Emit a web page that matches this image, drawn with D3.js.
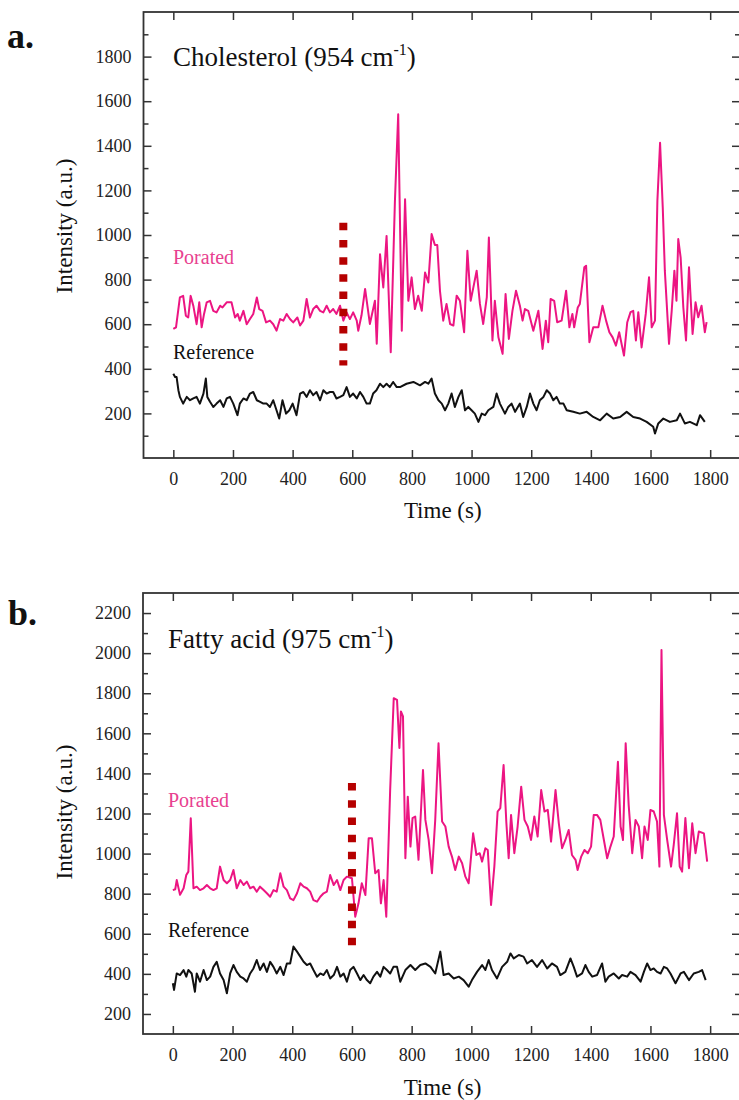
<!DOCTYPE html>
<html>
<head>
<meta charset="utf-8">
<script src="https://cdn.jsdelivr.net/npm/d3@7"></script>
<style>
  body { margin: 0; background: #fff; }
  svg text { font-family: "Liberation Serif", "Times New Roman", serif; }
</style>
</head>
<body>
<svg id="chart" width="739" height="1100"></svg>
<script>
// Time (s), intensity (a.u.)
const cholPorated = [[0,579],[9,586],[22,720],[33,727],[42,638],[50,630],[58,727],[67,683],[78,600],[87,698],[95,586],[103,646],[112,698],[123,705],[134,660],[145,653],[157,683],[165,675],[179,698],[195,698],[207,630],[216,646],[223,616],[235,660],[246,600],[257,623],[268,646],[280,720],[288,668],[299,660],[311,608],[324,616],[335,600],[346,571],[358,623],[369,616],[380,646],[391,623],[402,608],[416,630],[425,594],[436,616],[447,713],[458,630],[469,668],[480,683],[492,660],[503,653],[514,683],[525,653],[536,668],[547,646],[559,683],[570,616],[581,653],[592,623],[603,653],[615,616],[620,571],[631,640],[643,758],[659,601],[676,705],[682,512],[693,914],[704,765],[715,996],[729,474],[743,1153],[754,1541],[766,571],[777,1160],[788,705],[799,810],[810,668],[821,728],[833,660],[844,832],[855,787],[866,1004],[877,955],[885,955],[894,750],[905,616],[916,691],[928,601],[939,594],[950,728],[961,705],[975,564],[986,929],[997,705],[1006,765],[1017,840],[1028,691],[1039,601],[1051,720],[1058,989],[1070,527],[1078,705],[1090,541],[1104,467],[1114,735],[1125,534],[1137,660],[1149,750],[1162,683],[1171,616],[1179,668],[1190,660],[1207,571],[1224,660],[1238,489],[1249,616],[1257,519],[1265,713],[1277,705],[1287,609],[1302,616],[1317,750],[1328,586],[1338,646],[1344,586],[1356,675],[1363,691],[1378,855],[1384,862],[1395,519],[1408,586],[1425,586],[1439,683],[1451,616],[1462,564],[1473,541],[1484,504],[1495,564],[1511,459],[1522,609],[1533,654],[1542,660],[1551,527],[1559,654],[1570,496],[1584,646],[1595,810],[1604,586],[1615,616],[1623,1153],[1632,1414],[1641,1124],[1648,840],[1662,512],[1671,660],[1680,840],[1687,705],[1693,982],[1701,899],[1710,675],[1719,527],[1729,855],[1741,556],[1751,698],[1760,631],[1771,683],[1782,564],[1788,609]];

const cholReference = [[0,378],[6,363],[11,363],[17,304],[22,274],[33,244],[45,274],[56,259],[67,267],[78,274],[89,244],[101,289],[109,356],[114,274],[123,252],[134,229],[145,244],[157,259],[168,229],[179,267],[190,274],[201,244],[215,192],[223,244],[235,267],[246,259],[257,289],[268,296],[280,259],[291,252],[302,244],[313,244],[324,229],[335,259],[346,214],[355,177],[366,259],[378,199],[389,214],[400,244],[413,192],[425,289],[436,296],[447,274],[458,304],[469,282],[480,296],[492,259],[503,304],[514,289],[525,296],[536,296],[547,267],[559,274],[570,282],[581,318],[592,274],[603,289],[615,267],[626,296],[637,274],[648,244],[659,244],[670,289],[681,304],[693,333],[704,318],[715,333],[726,318],[737,341],[749,318],[760,318],[782,333],[805,341],[827,326],[844,341],[855,333],[866,356],[877,289],[889,259],[900,244],[911,214],[922,244],[933,289],[944,229],[956,274],[967,304],[978,214],[989,229],[1000,214],[1011,199],[1023,162],[1034,199],[1045,192],[1056,214],[1073,229],[1084,289],[1095,244],[1112,199],[1123,229],[1134,244],[1146,207],[1162,244],[1173,184],[1185,229],[1196,289],[1207,244],[1218,214],[1229,259],[1241,274],[1252,304],[1263,289],[1274,259],[1285,274],[1296,244],[1308,244],[1319,214],[1341,207],[1363,199],[1386,207],[1408,184],[1431,169],[1453,199],[1475,177],[1498,184],[1520,207],[1542,184],[1565,177],[1587,162],[1609,140],[1615,110],[1626,155],[1643,177],[1665,162],[1688,169],[1699,199],[1715,155],[1732,162],[1755,147],[1766,192],[1782,162]];

const fattyPorated = [[0,818],[8,822],[13,868],[24,794],[36,827],[45,893],[52,910],[60,1176],[69,827],[80,835],[91,818],[103,827],[114,843],[125,827],[136,818],[147,827],[158,935],[170,868],[181,852],[192,868],[203,918],[214,827],[226,868],[237,843],[248,860],[259,827],[270,835],[281,810],[292,835],[304,818],[315,802],[326,785],[337,818],[348,810],[360,902],[371,835],[382,818],[393,777],[404,768],[416,802],[427,852],[438,835],[449,827],[460,810],[471,768],[483,760],[494,785],[505,802],[516,810],[527,893],[539,843],[550,868],[561,818],[572,868],[583,885],[600,877],[611,685],[622,752],[633,852],[645,793],[656,1076],[667,1076],[678,902],[689,918],[697,752],[706,868],[715,685],[728,1317],[740,1775],[751,1767],[759,1527],[764,1709],[771,1684],[779,977],[787,1284],[796,1035],[803,1177],[812,1185],[823,969],[838,1417],[846,1168],[857,1068],[868,902],[879,1168],[890,1550],[902,1160],[913,1135],[924,1035],[935,985],[946,918],[958,985],[969,952],[980,885],[991,852],[1006,1101],[1017,993],[1028,1002],[1036,960],[1047,1027],[1055,1018],[1066,744],[1077,935],[1088,1210],[1097,1227],[1108,1442],[1117,1160],[1125,977],[1133,1193],[1144,1002],[1155,1135],[1167,1334],[1178,1168],[1189,1135],[1200,1068],[1211,1185],[1222,1085],[1234,1317],[1245,1210],[1256,1218],[1267,1060],[1282,1317],[1293,1151],[1304,1027],[1315,1068],[1326,1118],[1337,993],[1349,969],[1356,918],[1368,985],[1379,1018],[1390,1002],[1401,1035],[1410,1193],[1421,1193],[1432,1168],[1444,1068],[1455,977],[1466,1035],[1477,1085],[1491,1458],[1500,1135],[1508,1068],[1517,1550],[1527,1243],[1539,1002],[1550,1168],[1561,1135],[1572,977],[1580,1135],[1591,1068],[1600,1218],[1611,1210],[1622,1160],[1630,935],[1637,2016],[1645,1193],[1656,1068],[1669,935],[1678,1043],[1689,1201],[1698,935],[1706,910],[1717,1177],[1729,927],[1740,1151],[1751,1002],[1762,1110],[1779,1101],[1790,960]];

const fattyReference = [[0,353],[4,320],[13,402],[24,394],[36,419],[45,386],[52,419],[63,402],[74,311],[80,402],[91,361],[103,419],[114,369],[125,386],[136,435],[147,460],[158,402],[170,369],[181,303],[192,402],[203,444],[214,410],[226,386],[237,377],[248,361],[259,402],[270,427],[281,469],[292,419],[304,452],[315,410],[326,460],[337,435],[348,402],[360,435],[371,394],[382,452],[393,452],[404,536],[416,511],[427,486],[438,460],[449,444],[460,452],[471,419],[483,386],[494,402],[505,394],[516,419],[527,377],[539,394],[550,435],[561,386],[572,402],[583,361],[594,419],[605,435],[617,402],[628,369],[639,394],[650,369],[661,353],[672,386],[684,410],[695,386],[706,435],[717,419],[728,402],[739,435],[751,435],[762,361],[779,419],[796,444],[812,419],[829,444],[846,452],[863,435],[879,402],[896,511],[907,394],[924,402],[941,377],[958,386],[974,369],[991,336],[1002,369],[1019,410],[1036,444],[1047,419],[1058,469],[1069,419],[1086,377],[1103,435],[1120,460],[1131,502],[1142,477],[1159,494],[1175,486],[1187,452],[1203,469],[1220,435],[1237,469],[1254,427],[1270,452],[1287,435],[1298,394],[1315,410],[1332,477],[1343,435],[1354,386],[1371,402],[1382,444],[1393,410],[1405,386],[1421,394],[1438,452],[1449,361],[1460,386],[1477,402],[1494,377],[1505,394],[1522,386],[1533,410],[1550,394],[1567,361],[1578,410],[1589,452],[1600,419],[1611,427],[1622,410],[1634,402],[1645,435],[1656,427],[1667,402],[1684,353],[1701,402],[1712,410],[1729,369],[1745,402],[1762,410],[1773,419],[1785,369]];

const xTicks = [0, 200, 400, 600, 800, 1000, 1200, 1400, 1600, 1800];
const cholYTicks = [200, 400, 600, 800, 1000, 1200, 1400, 1600, 1800];
const cholYMinor = [100, 300, 500, 700, 900, 1100, 1300, 1500, 1700, 1900];
const fattyYTicks = [200, 400, 600, 800, 1000, 1200, 1400, 1600, 1800, 2000, 2200];
const fattyYMinor = [300, 500, 700, 900, 1100, 1300, 1500, 1700, 1900, 2100];

// [time, from, to] of the poration marker
const cholMarker = [570, 1055, 415];
const fattyMarker = [600, 1352, 500];

const PINK = "#ec1582";
const SERIF = '"Liberation Serif", "Times New Roman", serif';
const svg = d3.select("#chart");

function drawPanel(opt) {
  const { top, bottom, left, right, yDomain, yTicks, yMinor, porated, reference, marker } = opt;

  const x = d3.scaleLinear().domain([-100, 1900]).range([left, right]);
  const y = d3.scaleLinear().domain(yDomain).range([bottom, top]);
  const g = svg.append("g");
  const fmt = d3.format("d");

  // axes, ticks inward
  const styleAxis = (sel) => {
    sel.attr("font-family", SERIF).attr("font-size", 18);
    sel.select(".domain").remove();
    sel.selectAll("line").attr("stroke", "#333").attr("stroke-width", 1.5);
    sel.selectAll("text").attr("fill", "#222");
  };

  g.append("g").attr("transform", `translate(0,${bottom})`)
    .call(d3.axisBottom(x).tickValues(xTicks).tickFormat(fmt).tickSize(-8).tickPadding(14))
    .call(styleAxis);
  g.append("g").attr("transform", `translate(0,${top})`)
    .call(d3.axisTop(x).tickValues(xTicks).tickSize(-8).tickFormat(""))
    .call(styleAxis);
  g.append("g").attr("transform", `translate(${left},0)`)
    .call(d3.axisLeft(y).tickValues(yTicks).tickFormat(fmt).tickSize(-8).tickPadding(12))
    .call(styleAxis);
  g.append("g").attr("transform", `translate(${left},0)`)
    .call(d3.axisLeft(y).tickValues(yMinor).tickSize(-5).tickFormat(""))
    .call(styleAxis);
  g.append("g").attr("transform", `translate(${right},0)`)
    .call(d3.axisRight(y).tickValues(yTicks).tickSize(-8).tickFormat(""))
    .call(styleAxis);
  g.append("g").attr("transform", `translate(${right},0)`)
    .call(d3.axisRight(y).tickValues(yMinor).tickSize(-5).tickFormat(""))
    .call(styleAxis);

  g.append("rect")
    .attr("x", left).attr("y", top)
    .attr("width", right - left).attr("height", bottom - top)
    .attr("fill", "none").attr("stroke", "#333").attr("stroke-width", 1.8);

  const line = d3.line().x((d) => x(d[0])).y((d) => y(d[1]));

  g.append("path").datum(reference)
    .attr("fill", "none").attr("stroke", "#111").attr("stroke-width", 2)
    .attr("stroke-linejoin", "round").attr("d", line);

  g.append("path").datum(porated)
    .attr("fill", "none").attr("stroke", PINK).attr("stroke-width", 2)
    .attr("stroke-linejoin", "round").attr("d", line);

  g.append("line")
    .attr("x1", x(marker[0])).attr("x2", x(marker[0]))
    .attr("y1", y(marker[1])).attr("y2", y(marker[2]))
    .attr("stroke", "#b50000").attr("stroke-width", 8)
    .attr("stroke-dasharray", "7.5,9.7");

  // labels
  const title = g.append("text")
    .attr("x", opt.titleX).attr("y", opt.titleY)
    .attr("font-size", 27).attr("fill", "#111");
  title.append("tspan").text(opt.title + " (" + opt.wavenumber + " cm");
  title.append("tspan").attr("font-size", 16).attr("dy", -11).text("-1");
  title.append("tspan").attr("dy", 11).text(")");

  g.append("text").attr("x", opt.panelX).attr("y", opt.panelY)
    .attr("font-size", 36).attr("font-weight", "bold").attr("fill", "#111")
    .text(opt.panel);

  g.append("text").attr("x", opt.labelX).attr("y", opt.poratedY)
    .attr("font-size", 20).attr("fill", "#e8418f").text("Porated");
  g.append("text").attr("x", opt.labelX).attr("y", opt.referenceY)
    .attr("font-size", 20).attr("fill", "#111").text("Reference");

  g.append("text")
    .attr("x", (left + right) / 2 + 1).attr("y", bottom + opt.xTitleOffset)
    .attr("text-anchor", "middle").attr("font-size", 23).attr("fill", "#111")
    .text("Time (s)");

  g.append("text")
    .attr("transform", `translate(72,${opt.yTitleY}) rotate(-90)`)
    .attr("text-anchor", "middle").attr("font-size", 23).attr("fill", "#111")
    .text("Intensity (a.u.)");
}

drawPanel({
  top: 12, bottom: 458, left: 143.5, right: 740,
  yDomain: [0, 2000], yTicks: cholYTicks, yMinor: cholYMinor,
  porated: cholPorated, reference: cholReference, marker: cholMarker,
  title: "Cholesterol", wavenumber: "954", titleX: 173, titleY: 66,
  panel: "a.", panelX: 7, panelY: 48,
  labelX: 173, poratedY: 264, referenceY: 359,
  xTitleOffset: 60, yTitleY: 226
});

drawPanel({
  top: 593, bottom: 1034, left: 143, right: 740,
  yDomain: [100, 2300], yTicks: fattyYTicks, yMinor: fattyYMinor,
  porated: fattyPorated, reference: fattyReference, marker: fattyMarker,
  title: "Fatty acid", wavenumber: "975", titleX: 168, titleY: 648,
  panel: "b.", panelX: 8, panelY: 625,
  labelX: 168, poratedY: 807, referenceY: 937,
  xTitleOffset: 61, yTitleY: 812
});
</script>
</body>
</html>
